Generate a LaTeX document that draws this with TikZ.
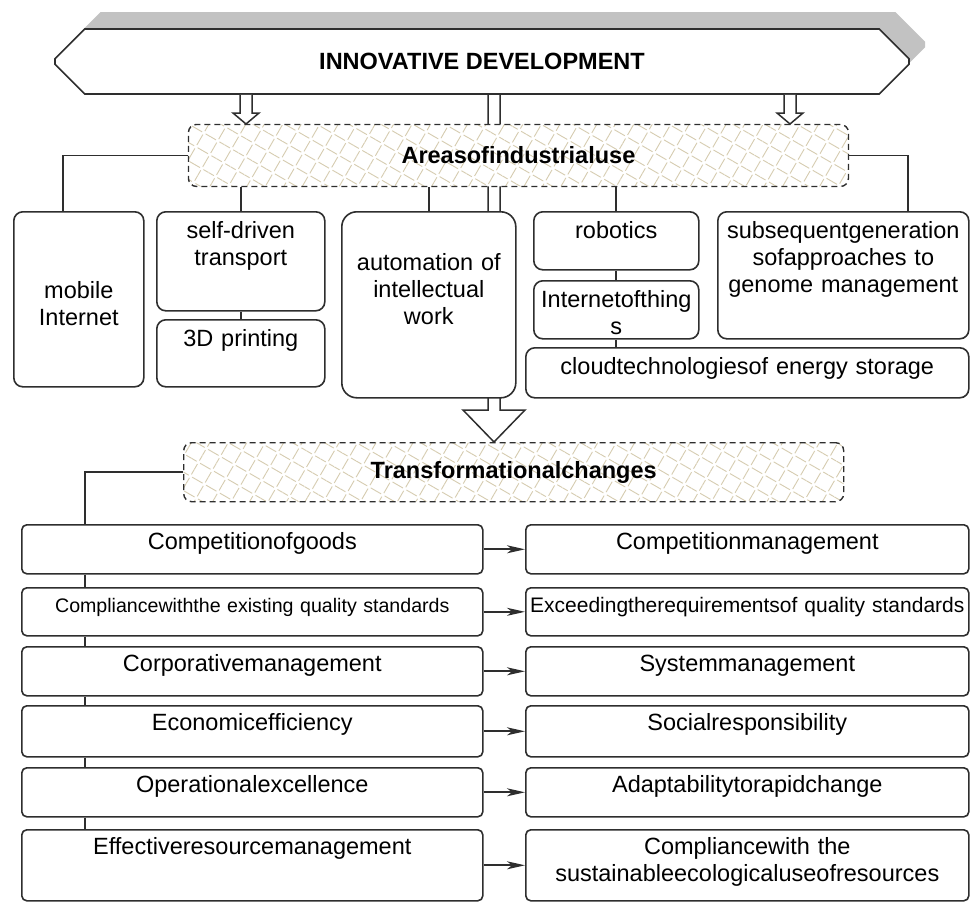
\documentclass[tikz,border=0pt]{standalone}
\usepackage{fontspec}
\setmainfont{Liberation Sans}
\usepackage{tikz}
\usetikzlibrary{shapes.misc,shadows,patterns.meta,calc,backgrounds,arrows.meta}

\definecolor{edge}{HTML}{2E2E2E}
\definecolor{hatch}{RGB}{214,204,176}
\definecolor{shade}{HTML}{C2C2C2}
\newcommand{\cellfont}{\fontsize{23.5}{27}\selectfont}
\newcommand{\smallcellfont}{\fontsize{19.6}{24}\selectfont}
\newcommand{\headfont}{\fontsize{23.5}{27}\selectfont\bfseries}

\tikzset{
  banner/.style={chamfered rectangle, chamfered rectangle xsep=19pt,
    chamfered rectangle ysep=18pt, draw=edge, line width=1.6pt, fill=white,
    minimum width=854pt, minimum height=65pt, font=\headfont,
    general shadow={fill=shade, draw=none, shadow xshift=16pt, shadow yshift=17pt}},
  box/.style={draw=edge, line width=1.6pt, rounded corners=9pt, fill=white,
    anchor=north west, inner xsep=0pt, inner ysep=0pt, align=center,
    font=\cellfont, text height=27pt},
  cell/.style={box, rounded corners=5pt, text height=25pt},
  area/.style={draw=edge, line width=1.4pt, dash pattern=on 6pt off 4pt,
    rounded corners=8pt, preaction={fill=white},
    pattern={Hatch[angle=60,distance=16pt,line width=0.9pt]}, pattern color=hatch,
    anchor=north west, font=\headfont},
  link/.style={draw=edge, line width=1.7pt},
  arr/.style={link, -{Stealth[length=18pt,width=8pt,inset=5pt]}},
  hollow/.style={draw=edge, line width=1.5pt, fill=white, line join=miter}
}

\begin{document}
\begin{tikzpicture}[x=1pt, y=-1pt]
  \useasboundingbox (0,0) rectangle (970,902);

  % top level
  \node[banner] (top) at (482,61.5) {INNOVATIVE DEVELOPMENT};
  \node[area, minimum width=660pt, minimum height=62pt] (areas) at (188,124) {Areasofindustrialuse};

  % areas of use
  \node[box, text width=130pt, minimum height=175pt, text height=26pt] (mob) at (13,211) {mobile\\Internet};
  \node[box, text width=168pt, text depth=72pt] (sdt) at (156,211) {self-driven\\transport};
  \node[box, text width=168pt, text depth=40pt] (p3d) at (156,319) {3D printing};
  \node[box, rounded corners=15pt, text width=174pt, text height=59pt, text depth=127pt] (aut) at (341,211) {automation of\\intellectual\\work};
  \node[box, text width=165pt, text depth=31pt] (rob) at (533,211) {robotics};
  \node[box, text width=165pt, text depth=31pt] (iot) at (533,280) {Internetofthing\\s};
  \node[box, text width=251pt, text depth=100pt] (gen) at (717,211) {subsequentgeneration\\sofapproaches to\\genome management};
  \node[box, text width=443pt, text depth=23pt] (cld) at (525,347) {cloudtechnologiesof energy storage};

  \draw[link] (areas.west) -| ([xshift=-16pt]mob.north);
  \draw[link] (areas.east) -| ([xshift=65pt]gen.north);
  \foreach \n in {sdt,aut,rob}
    \draw[link] (areas.south -| \n.north) -- (\n.north);
  \draw[link] (sdt.south) -- (p3d.north);
  \draw[link] (rob.south) -- (iot.north);
  \draw[link] (iot.south) -- (iot.south |- cld.north);

  % small arrows into the areas
  \foreach \ax in {246,790} {
    \coordinate (ax) at (\ax,0);
    \draw[hollow] ($(top.south -| ax)+(-6,0)$) -- ($(areas.north -| ax)+(-6,-11)$) -- ++(-7,0)
      -- (areas.north -| ax) -- ++(13,-11) -- ++(-7,0) -- ($(top.south -| ax)+(6,0)$);
  }

  % transformational changes
  \node[area, minimum width=660pt, minimum height=59pt] (trans) at (183,442) {Transformationalchanges};

  \node[cell, text width=461pt, text depth=24pt] (l1) at (21,524) {Competitionofgoods};
  \node[cell, text width=461pt, text depth=23pt, font=\smallcellfont] (l2) at (21,587) {Compliancewiththe existing quality standards};
  \node[cell, text width=461pt, text depth=24pt] (l3) at (21,646) {Corporativemanagement};
  \node[cell, text width=461pt, text depth=26pt] (l4) at (21,705) {Economicefficiency};
  \node[cell, text width=461pt, text depth=24pt] (l5) at (21,767) {Operationalexcellence};
  \node[cell, text width=461pt, text depth=46pt] (l6) at (21,829) {Effectiveresourcemanagement};

  \node[cell, text width=443pt, text depth=24pt] (r1) at (525,524) {Competitionmanagement};
  \node[cell, text width=443pt, text depth=23pt, font=\fontsize{21}{25}\selectfont] (r2) at (525,587) {Exceedingtherequirementsof quality standards};
  \node[cell, text width=443pt, text depth=24pt] (r3) at (525,646) {Systemmanagement};
  \node[cell, text width=443pt, text depth=26pt] (r4) at (525,705) {Socialresponsibility};
  \node[cell, text width=443pt, text depth=24pt] (r5) at (525,767) {Adaptabilitytorapidchange};
  \node[cell, text width=443pt, text depth=46pt] (r6) at (525,829) {Compliancewith the\\sustainableecologicaluseofresources};

  \coordinate (spine) at (85,0);
  \draw[link] (trans.west) -| (l1.north -| spine);
  \foreach \a/\b in {l1/l2,l2/l3,l3/l4,l4/l5,l5/l6}
    \draw[link] (\a.south -| spine) -- (\b.north -| spine);
  \foreach \i in {1,...,6}
    \draw[arr] (l\i.east) -- (r\i.west);

  % big arrow behind the boxes
  \begin{scope}[on background layer]
    \coordinate (bx) at (494,0);
    \draw[hollow] ($(top.south -| bx)+(-6,0)$) -- ($(trans.north -| bx)+(-6,-32)$) -- ++(-25,0)
      -- (trans.north -| bx) -- ++(31,-32) -- ++(-25,0) -- ($(top.south -| bx)+(6,0)$);
  \end{scope}
\end{tikzpicture}
\end{document}
